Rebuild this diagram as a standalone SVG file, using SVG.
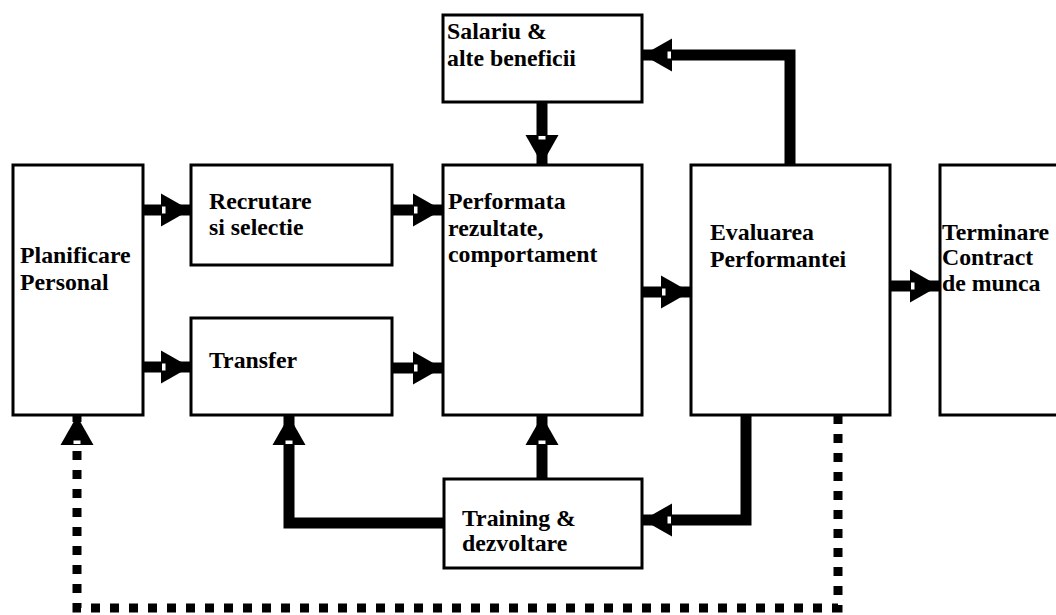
<svg xmlns="http://www.w3.org/2000/svg" width="1056" height="615" viewBox="0 0 1056 615">
  <style>
    .box { fill: #fff; stroke: #000; stroke-width: 3; }
    .lbl { font-family: "Liberation Serif", "Times New Roman", serif; font-weight: bold; font-size: 23.8px; fill: #000; }
    .flow { fill: none; stroke: #000; stroke-width: 11; stroke-linejoin: miter; }
    .dots { fill: none; stroke: #000; stroke-width: 9; stroke-dasharray: 9 10; }
  </style>
  <defs>
    <!-- solid head with a small white notch at its base -->
    <marker id="head" markerUnits="userSpaceOnUse" markerWidth="40" markerHeight="40" viewBox="-34 -20 40 40" refX="0" refY="0" orient="auto" overflow="visible">
      <path d="M -29 -16.5 L 0 0 L -29 16.5 Z" fill="#000"/>
      <rect x="-28" y="-3.5" width="3.5" height="7" fill="#fff"/>
    </marker>
  </defs>
  <rect width="1056" height="615" fill="#fff"/>

  <g id="node-planificare">
    <rect class="box" x="13" y="165" width="130" height="250"/>
    <text class="lbl" x="20" y="263">Planificare</text>
    <text class="lbl" x="20" y="290">Personal</text>
  </g>
  <g id="node-recrutare">
    <rect class="box" x="191" y="165" width="201" height="100"/>
    <text class="lbl" x="209" y="209">Recrutare</text>
    <text class="lbl" x="209" y="235">si selectie</text>
  </g>
  <g id="node-transfer">
    <rect class="box" x="191" y="318" width="201" height="97"/>
    <text class="lbl" x="209" y="368">Transfer</text>
  </g>
  <g id="node-salariu">
    <rect class="box" x="443" y="15" width="199" height="87"/>
    <text class="lbl" x="447" y="39">Salariu &amp;</text>
    <text class="lbl" x="447" y="66">alte beneficii</text>
  </g>
  <g id="node-performata">
    <rect class="box" x="443" y="165" width="199" height="250"/>
    <text class="lbl" x="448" y="209">Performata</text>
    <text class="lbl" x="448" y="236">rezultate,</text>
    <text class="lbl" x="448" y="262">comportament</text>
  </g>
  <g id="node-evaluarea">
    <rect class="box" x="691" y="165" width="199" height="250"/>
    <text class="lbl" x="710" y="240">Evaluarea</text>
    <text class="lbl" x="710" y="267">Performantei</text>
  </g>
  <g id="node-terminare">
    <rect class="box" x="940" y="165" width="130" height="250"/>
    <text class="lbl" x="942" y="240">Terminare</text>
    <text class="lbl" x="942" y="265">Contract</text>
    <text class="lbl" x="942" y="291">de munca</text>
  </g>
  <g id="node-training">
    <rect class="box" x="444" y="479" width="198" height="89"/>
    <text class="lbl" x="462" y="526">Training &amp;</text>
    <text class="lbl" x="462" y="551">dezvoltare</text>
  </g>

  <g id="connectors">
    <path class="flow" d="M 143 210 L 190 210" marker-end="url(#head)"/>
    <path class="flow" d="M 143 367 L 190 367" marker-end="url(#head)"/>
    <path class="flow" d="M 392 210 L 442 210" marker-end="url(#head)"/>
    <path class="flow" d="M 392 368 L 442 368" marker-end="url(#head)"/>
    <path class="flow" d="M 642 292 L 690 292" marker-end="url(#head)"/>
    <path class="flow" d="M 890 286 L 939 286" marker-end="url(#head)"/>
    <path class="flow" d="M 542 102 L 542 164" marker-end="url(#head)"/>
    <path class="flow" d="M 542 479 L 542 416" marker-end="url(#head)"/>
    <path class="flow" d="M 790 165 L 790 55 L 643 55" stroke-width="10" marker-end="url(#head)"/>
    <path class="flow" d="M 746 415 L 746 520 L 643 520" stroke-width="9" marker-end="url(#head)"/>
    <path class="flow" d="M 444 523 L 289 523 L 289 416" stroke-width="9" marker-end="url(#head)"/>
    <path class="dots" d="M 838 415 L 838 608 L 77 608 L 77 416" marker-end="url(#head)"/>
  </g>
</svg>
